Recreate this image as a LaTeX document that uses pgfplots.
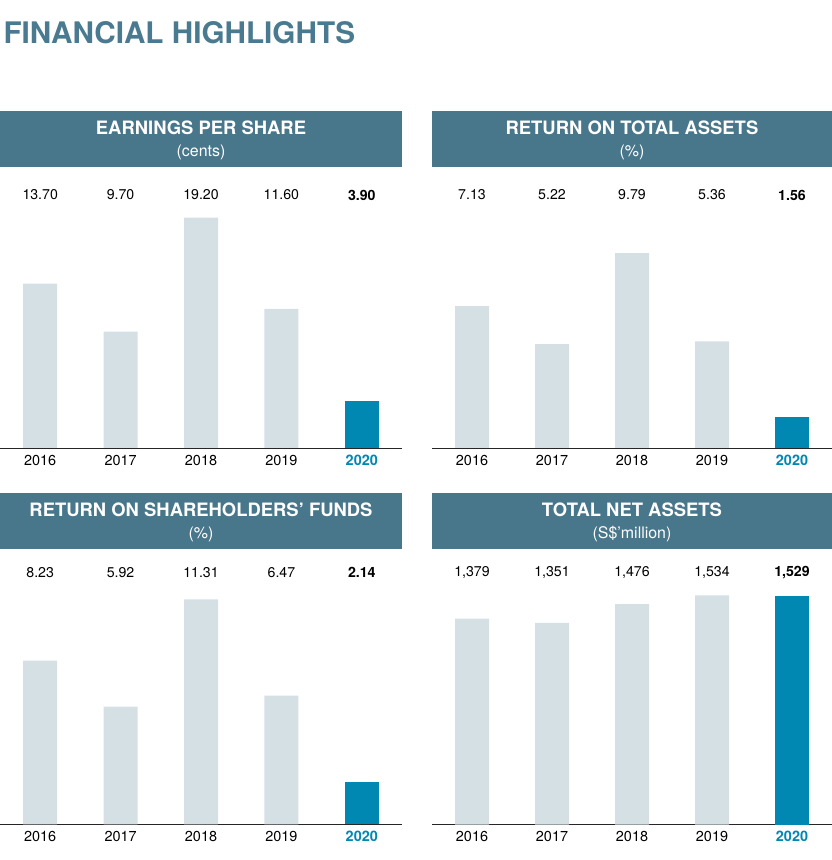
\documentclass[border=0pt]{standalone}
\usepackage{pgfplots}
\pgfplotsset{compat=1.18}
\usepackage{fontspec}
\setmainfont{TeX Gyre Heros}

\definecolor{band}{HTML}{48768A}
\definecolor{titlec}{HTML}{497A8F}
\definecolor{barg}{HTML}{D5E0E5}
\definecolor{hl}{HTML}{0087B2}

% common look of the four bar panels
% #1 = axis width, #2 = label height above baseline (bp), #3 = bp per data unit
\pgfplotsset{
  panel/.style n args={3}{
    scale only axis, width=#1, height=240bp,
    anchor=south west,
    ymin=0, ymax={240/#3}, xmin=-0.5, xmax=4.5,
    ybar, bar width=34bp, bar shift=0pt,
    axis y line=none, axis x line*=bottom,
    x axis line style={-, line width=0.9pt, black!85},
    xtick={0,...,4},
    xticklabels={2016,2017,2018,2019,{\bfseries\color{hl}2020}},
    xtick style={draw=none},
    xticklabel style={font=\fontsize{14.5}{16}\selectfont, text=black, yshift=1bp},
    clip=false,
    /pgf/number format/assume math mode=true,
    visualization depends on={value \thisrow{y} \as \rawy},
    nodes near coords,
    every node near coord/.append style={anchor=center,
      font=\fontsize{14.2}{16}\selectfont, text=black,
      yshift=#2bp-\rawy*#3bp},
  },
  past/.style={fill=barg, draw=none},
  now/.style={fill=hl, draw=none,
    every node near coord/.append style={font=\fontsize{14.2}{16}\selectfont\bfseries}},
}

\newcommand\header[4]{% x-centre, line-1 baseline, title, unit
  \node[anchor=base, text=white, font=\fontsize{18.5}{20}\selectfont\bfseries]
    at (#1bp,#2bp) {#3};
  \node[anchor=base, text=white, font=\fontsize{16}{18}\selectfont]
    at (#1bp,#2bp-22bp) {#4};
}

\begin{document}
\begin{tikzpicture}
\path[use as bounding box] (0,0) rectangle (832bp,860bp);

\node[anchor=base west, text=titlec, font=\fontsize{29.8}{32}\selectfont\bfseries]
  at (0bp,816.7bp) {FINANCIAL HIGHLIGHTS};

% header bands
\fill[band] (0bp,693bp) rectangle (402bp,749bp);
\fill[band] (432bp,693bp) rectangle (832bp,749bp);
\fill[band] (0bp,311bp) rectangle (402bp,367bp);
\fill[band] (432bp,311bp) rectangle (832bp,367bp);

\header{201}{725}{EARNINGS PER SHARE}{(cents)}
\header{632}{725}{RETURN ON TOTAL ASSETS}{(\%)}
\header{201}{343}{RETURN ON SHAREHOLDERS’ FUNDS}{(\%)}
\header{632}{343}{TOTAL NET ASSETS}{(S\$’million)}

% Earnings per share
\begin{axis}[panel={402bp}{253}{12}, at={(0bp,412bp)},
  /pgf/number format/.cd, fixed, zerofill, precision=2]
\addplot[past] table {
x y
0 13.70
1 9.70
2 19.20
3 11.60
};
\addplot[now] table {
x y
4 3.90
};
\end{axis}

% Return on total assets
\begin{axis}[panel={400bp}{253}{19.9}, at={(432bp,412bp)},
  /pgf/number format/.cd, fixed, zerofill, precision=2]
\addplot[past] table {
x y
0 7.13
1 5.22
2 9.79
3 5.36
};
\addplot[now] table {
x y
4 1.56
};
\end{axis}

% Return on shareholders' funds
\begin{axis}[panel={402bp}{252}{19.9}, at={(0bp,35.5bp)},
  /pgf/number format/.cd, fixed, zerofill, precision=2]
\addplot[past] table {
x y
0 8.23
1 5.92
2 11.31
3 6.47
};
\addplot[now] table {
x y
4 2.14
};
\end{axis}

% Total net assets
\begin{axis}[panel={400bp}{252}{0.1493}, at={(432bp,35.5bp)},
  /pgf/number format/.cd, fixed, precision=0, 1000 sep={,}]
\addplot[past] table {
x y
0 1379
1 1351
2 1476
3 1534
};
\addplot[now] table {
x y
4 1529
};
\end{axis}
\end{tikzpicture}
\end{document}
